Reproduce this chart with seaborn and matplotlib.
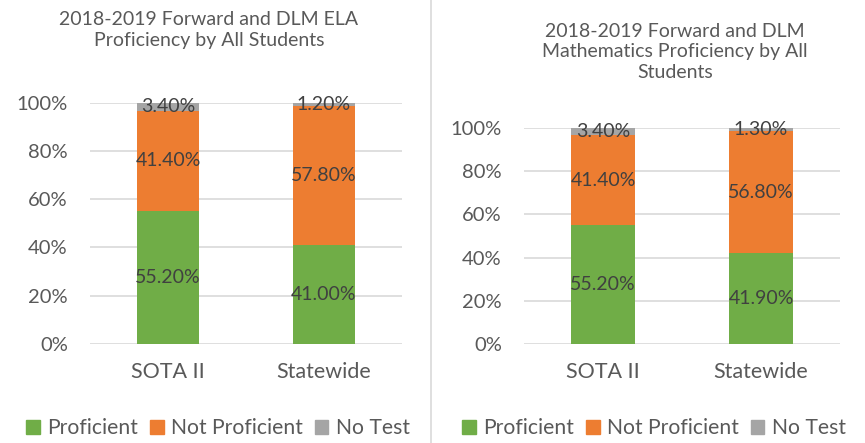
import matplotlib
matplotlib.use('Agg')
import matplotlib.pyplot as plt
import matplotlib.patches as mpatches
from matplotlib.lines import Line2D
import seaborn as sns
import pandas as pd

sns.set_style('white')
plt.rcParams['font.family'] = ['Lato', 'DejaVu Sans']

# ── datos ─────────────────────────────────────────────────────────────
schools = ['SOTA II', 'Statewide']
series = ['Proficient', 'Not Proficient', 'No Test']
colors = ['#70AD47', '#ED7D31', '#A5A5A5']

ela_proficient = [55.2, 41.0]
ela_not_proficient = [41.4, 57.8]
ela_no_test = [3.4, 1.2]

math_proficient = [55.2, 41.9]
math_not_proficient = [41.4, 56.8]
math_no_test = [3.4, 1.3]

yticks = [0, 20, 40, 60, 80, 100]

TICK_C = '#595959'
LBL_C = '#404040'

fig = plt.figure(figsize=(8.65, 4.43), dpi=100)


def stacked(ax, prof, notp, notest):
    df = pd.DataFrame({'school': schools, 'Proficient': prof,
                       'Not Proficient': notp, 'No Test': notest})
    df['c1'] = df['Proficient']
    df['c2'] = df['c1'] + df['Not Proficient']
    df['c3'] = df['c2'] + df['No Test']
    # dibujar de arriba hacia abajo para simular el apilado
    for col, color in zip(['c3', 'c2', 'c1'], colors[::-1]):
        sns.barplot(data=df, x='school', y=col, color=color, width=0.4,
                    saturation=1, ax=ax, zorder=3, linewidth=0)
    for i, row in df.iterrows():
        bottoms = [0, row['c1'], row['c2']]
        for b, s in zip(bottoms, series):
            v = row[s]
            ax.text(i, b + v / 2, f'{v:.2f}%', ha='center', va='center',
                    fontsize=14, color=LBL_C, zorder=5)
    ax.set_ylim(0, 100)
    ax.set_xlim(-0.5, 1.5)
    ax.set_yticks(yticks)
    ax.set_yticklabels([f'{t}%' for t in yticks])
    ax.set_xlabel('')
    ax.set_ylabel('')
    ax.grid(axis='y', color='#D9D9D9', linewidth=1.2, zorder=0)
    ax.set_axisbelow(True)
    for sp in ax.spines.values():
        sp.set_visible(False)
    ax.tick_params(axis='y', length=0, pad=16, labelsize=14.5, labelcolor=TICK_C)
    ax.tick_params(axis='x', length=0, pad=13, labelsize=15.5, labelcolor=TICK_C)


ax1 = fig.add_axes([90 / 865, 99 / 443, 312 / 865, 241.3 / 443])
stacked(ax1, ela_proficient, ela_not_proficient, ela_no_test)

ax2 = fig.add_axes([524 / 865, 99 / 443, 316 / 865, 216 / 443])
stacked(ax2, math_proficient, math_not_proficient, math_no_test)

fig.text(209 / 865, 1 - 30 / 443,
         '2018-2019 Forward and DLM ELA\nProficiency by All Students',
         ha='center', va='center', fontsize=14, color=TICK_C, linespacing=1.25)
fig.text(675 / 865, 1 - 52 / 443,
         '2018-2019 Forward and DLM\nMathematics Proficiency by All\nStudents',
         ha='center', va='center', fontsize=14, color=TICK_C, linespacing=1.25)

# separador
fig.add_artist(Line2D([430.5 / 865, 430.5 / 865], [0, 1], color='#D9D9D9', lw=1.2))

handles = [mpatches.Patch(color=c, label=s) for c, s in zip(colors, series)]
for cx in [218 / 865, 654 / 865]:
    fig.legend(handles=handles, loc='center', bbox_to_anchor=(cx, 1 - 428 / 443),
               ncol=3, frameon=False, fontsize=15.2, labelcolor=TICK_C,
               handlelength=0.65, handleheight=0.65, handletextpad=0.35,
               columnspacing=0.55, borderaxespad=0)

plt.savefig('out.png', dpi=100)
plt.close()
print('OK: out.png')
